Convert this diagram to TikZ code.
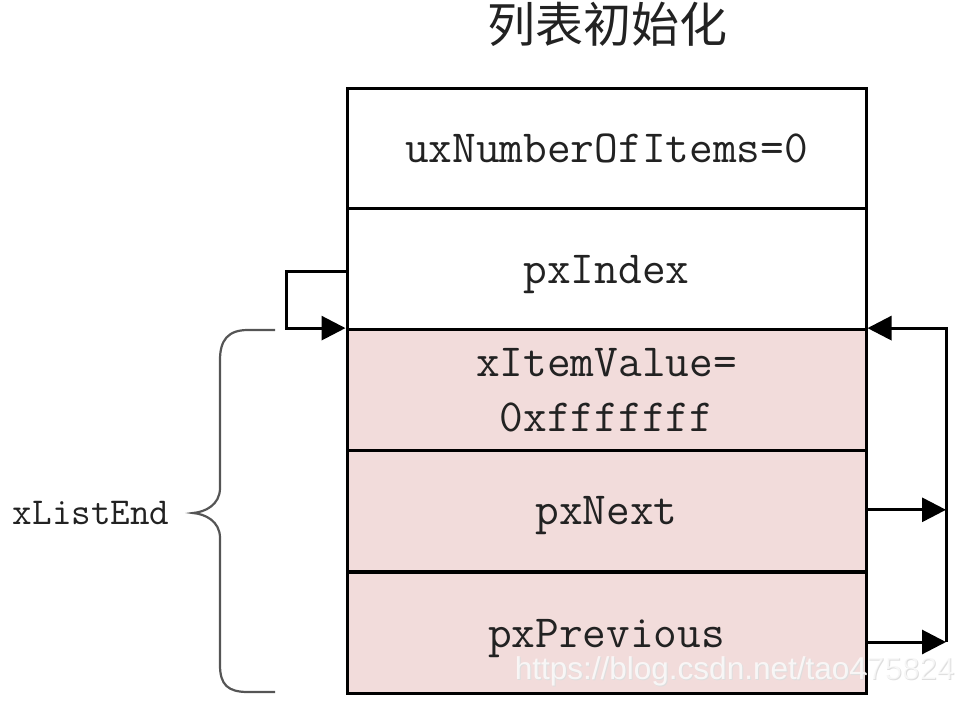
\documentclass[tikz,border=0pt]{standalone}
\usepackage{fontspec}
\newfontfamily\cjk{Noto Sans CJK SC}
\newfontfamily\wmfont{Liberation Sans}
\usetikzlibrary{arrows.meta,calc}
\definecolor{pinkfill}{HTML}{F2DCDB}
\definecolor{txt}{HTML}{222222}
\definecolor{bracecol}{HTML}{555555}
\tikzset{
  cellbase/.style={draw=black, line width=3pt, minimum width=519pt, minimum height=120.8pt, inner sep=0pt, text=txt, font=\ttfamily\fontsize{46}{55}\selectfont, align=center},
  cell/.style={cellbase, text depth=0pt},
  pinkcell/.style={cell, fill=pinkfill},
  pinktwo/.style={cellbase, fill=pinkfill},
  conn/.style={line width=3pt, draw=black, -{Triangle[length=24pt,width=24pt]}},
  wmstyle/.style={font=\wmfont\fontsize{31.5}{36}\selectfont, anchor=east},
}
\begin{document}
\begin{tikzpicture}[x=1pt,y=-1pt]
\useasboundingbox (0,0) rectangle (956,710);
\node[text=txt, font=\cjk\fontsize{48}{52}\selectfont] (title) at (607,24) {列表初始化};
\node[cell] (r1) at (606.5,148.4) {uxNumberOfItems=0};
\node[cell] (r2) at (606.5,269.2) {pxIndex};
\node[pinktwo] (r3) at (606.5,390) {xItemValue=\\0xfffffff};
\node[pinkcell] (r4) at (606.5,510.8) {pxNext};
\node[pinkcell] (r5) at (606.5,633) {pxPrevious};
% pxIndex self loop
\draw[conn] ($(r2.west)+(0,2)$) -- ++(-59,0) |- (r3.north west);
% right side
\coordinate (R) at (946,0);
\draw[conn] ($(r4.east)+(0,-1)$) -- ($(r4.east -| R)+(0,-1)$);
\coordinate (P) at ($(r5.east)+(0,9)$);
\draw[conn] (P) -- (P -| R);
\draw[conn] (P -| R) -- (r3.north east -| R) -- (r3.north east);
% brace
\draw[bracecol, line width=2.2pt] (275,330) -- (248,330) .. controls (228,330) and (220,340) .. (220,360)
  -- (220,488) .. controls (220,505) and (205,512) .. (193,513)
  .. controls (205,514) and (220,521) .. (220,538)
  -- (220,665) .. controls (220,685) and (228,692) .. (248,692) -- (275,692);
\coordinate (tip) at (193,513);
\node[text=txt, font=\ttfamily\fontsize{38}{44}\selectfont, anchor=east] (lbl) at ($(tip)+(-20,0)$) {xListEnd};
% watermark
\node[wmstyle, text=black!13] (wmshadow) at (959,672) {https://blog.csdn.net/tao475824};
\node[wmstyle, text=white, text opacity=0.75] (wm) at (958,671) {https://blog.csdn.net/tao475824};
\end{tikzpicture}
\end{document}
